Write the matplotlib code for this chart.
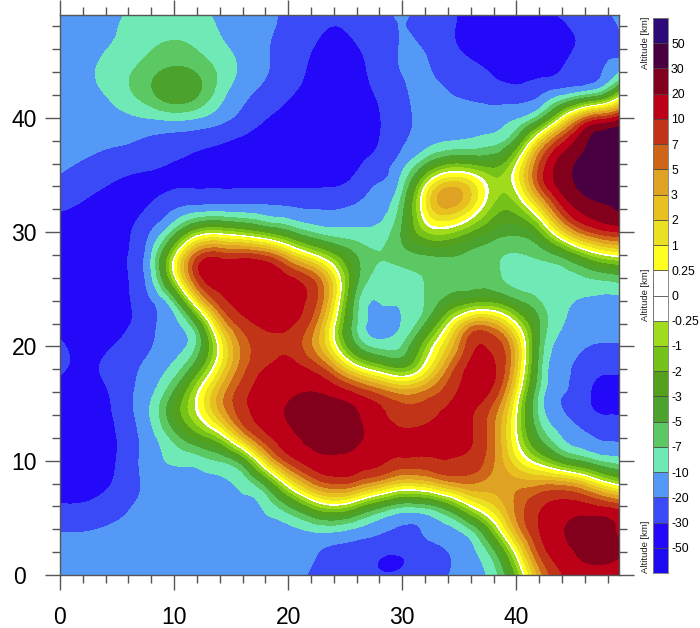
import numpy as np
import matplotlib
matplotlib.use("Agg")
import matplotlib.pyplot as plt
import matplotlib.tri as mtri
from matplotlib.ticker import MultipleLocator
from matplotlib.transforms import ScaledTranslation

plt.rcParams['font.family'] = ['Liberation Sans', 'DejaVu Sans']

LEVELS = [-50, -30, -20, -10, -7, -5, -3, -2, -1, -0.25, 0, 0.25, 1, 2, 3, 5, 7, 10, 20, 30, 50]
LEVEL_LABELS = ['-50', '-30', '-20', '-10', '-7', '-5', '-3', '-2', '-1', '-0.25', '0', '0.25',
                '1', '2', '3', '5', '7', '10', '20', '30', '50']
COLORS = ['#1c0af0', '#2408f8', '#3b4af7', '#5599f6', '#6fe9b5', '#5cc864', '#4ba32e', '#52a01c',
          '#75c218', '#a0dc1c', '#ffffff', '#ffffff', '#ffff22', '#ece022', '#e8c020', '#e0a222',
          '#cf6518', '#c13418', '#bc0018', '#82001c', '#480040', '#2c0a78']

x_km = list(range(0, 52, 2))
y_km = list(range(50, -2, -2))

y50 = [-16,-16,-15,-12,-9.4,-8.5,-9.7,-13,-16,-18,-22,-25,-27,-25,-23,-16,-23,-28,-34,-36,-36,-30,-27,-24,-19,-15]
y48 = [-15,-14,-13,-9.1,-8.2,-7.9,-8.8,-11,-15,-18,-22,-27,-32,-28,-24,-19,-25,-29,-36,-40,-42,-38,-34,-27,-22,-18]
y46 = [-15,-14,-10.5,-9.1,-7.3,-6.4,-7.2,-9.4,-13,-19,-25,-30,-38,-32,-26,-18,-19.5,-28,-36,-42,-44,-44,-37,-27,-23,-18]
y44 = [-15,-12.5,-9,-7.2,-5.4,-4,-4.8,-7.2,-12,-19,-24,-34,-40,-38,-25,-19,-18,-24,-27,-32,-39,-38,-32,-26,-21,-14]
y42 = [-15,-14,-10.5,-7.5,-5,-2.5,-3.8,-8.8,-19,-23,-29,-38,-42,-40,-29,-22,-16,-19,-23,-26,-27,-22,-18,-14,-7.6,3]
y40 = [-15,-15,-14,-12.5,-10.5,-9.4,-10,-16,-22,-30,-38,-42,-44,-42,-32,-23,-17,-15,-14.5,-14,-13,-9.4,0.12,9.7,19,28]
y38 = [-16,-17,-18.5,-19,-23,-26,-28,-29.5,-36,-42,-44,-44,-44,-42,-32,-22,-17,-15,-13,-10,-6,2.5,15,35,42,44]
y36 = [-18,-20.5,-23,-26,-28.5,-32,-36,-40,-43,-45,-45,-45,-44,-34,-26,-16,-6.2,-2.4,-2.5,-3,-0.12,9.4,27,38,44,45]
y34 = [-22,-26,-31,-39,-37,-34,-34,-33,-33,-33,-33,-33,-33,-27,-19,-10.5,0.62,5.6,2.8,-0.78,-0.12,9.4,26,42,46,46]
y32 = [-29,-35,-41,-39,-29,-21,-20.5,-20,-20,-20,-20.5,-20.5,-21,-18,-16,-6.8,1.5,5,1.4,-1.7,-2.1,1,15,25,30,30]
y30 = [-40,-40,-42,-33,-21,-7.6,-1,-0.62,-1.5,-3,-5.4,-9.1,-10,-9.4,-9.7,-4.6,-0.8,-0.8,-2.4,-4,-5,-3,2,8.5,15,18]
y28 = [-36,-38,-38,-33,-15,0,11,14,13,11,3,0.25,-2,-5,-7,-5.8,-5.6,-5.4,-6,-6.9,-7.9,-7.2,-6,-2,-0.12,0.25]
y26 = [-36,-38,-38,-33,-17,0,17,17,18,18,16,10.5,2,-5,-8.5,-8.5,-7.2,-6,-5.6,-6.6,-9.1,-8.5,-8.8,-8.2,-7.6,-6]
y24 = [-36,-37,-38,-34,-22,-10,2,13,15,17,17,12,2,-9.1,-10.2,-10.2,-7.3,-4.8,-4,-3,-5.6,-7.3,-9.4,-12,-14,-14]
y22 = [-36,-36,-37,-34,-23,-15,-7,3,9.5,14,13,8,0,-8.8,-17,-12,-6.4,-0.25,6,5,0,-5,-11,-15,-17,-18]
y20 = [-27.5,-36,-34,-27,-20.5,-15,-9.7,0,6,8.5,9.5,5,0.12,-7,-10,-9.1,-1,2,13,13,4,-6.8,-15,-19.5,-20.5,-21]
y18 = [-28,-34,-28,-22.5,-17,-10,-3.4,1,6.6,12,16,12,5.6,0.62,-1,-3,0,6,16,17,3,-7.9,-19,-27,-29,-30]
y16 = [-36,-36,-35,-21.5,-14,-5,0,4.4,9.7,15,18,21,19,14,7.9,5,6,8.8,16,14,1,-9.7,-20,-28,-40,-40]
y14 = [-37,-37,-37,-23,-10,-2.5,-0.12,3.6,11,15,22,29,29,22,14,8.5,8.8,14,12,6,-0.12,-10,-20,-28,-32,-33]
y12 = [-38,-39,-39,-26,-15,-6.6,-2.8,-1.5,4,13,17,23,28,23,16,14,16,15,13,6.2,-0.25,-6,-14,-19,-22,-23]
y10 = [-38,-39,-39,-24.5,-14,-9.4,-9.85,-8.2,-6,2.3,13,18,19,17,15,12,11,12,10,5.6,1,-1,-4.6,-7.3,-10.5,-13]
y8 = [-37,-38,-36,-24,-18,-16,-14,-13.5,-10.5,-6.4,0.62,6,9.7,7.9,5,2,2.5,5.6,6.2,4,4.4,5,6,3,0,-2]
y6 = [-30,-30,-26,-21,-16,-16,-16,-15,-14,-11,-6.4,-2,-0.25,-2,-6,-9.7,-9.1,-5,0.12,2,6,12,16,17,16,10]
y4 = [-20.5,-20.5,-19,-17,-15,-15,-15,-15,-15,-15,-15,-12,-11.5,-16,-20,-22,-20,-16,-10.5,-1.5,5,13,20,28,23,18]
y2 = [-16,-16,-15,-15,-15,-15,-15,-15,-15,-15,-15,-19.5,-24,-26,-30,-31,-26,-21,-15,-7.3,0.12,10,16,25,24,20]
y0 = [-15,-15,-15,-15,-15,-15,-15,-15,-15,-15,-17,-21,-24,-25,-30,-28.5,-23,-20.5,-15,-9.7,-2.5,4,12,14,14,14]

altitude = np.array([y50, y48, y46, y44, y42, y40, y38, y36, y34, y32, y30, y28, y26,
                     y24, y22, y20, y18, y16, y14, y12, y10, y8, y6, y4, y2, y0], dtype=float)

W, H = 700, 628
fig = plt.figure(figsize=(7.0, 6.28), dpi=100)


def px_axes(left, top, right, bottom):
    return fig.add_axes([left / W, 1 - bottom / H, (right - left) / W, (bottom - top) / H])


ax = px_axes(60, 15, 619, 575)

# The scale is non-linear: contour in level-position space, where every band has
# unit width except the thin white band around zero.
band_width = np.ones(len(LEVELS) - 1)
band_width[9:11] = 0.25
level_pos = np.concatenate([[0], np.cumsum(band_width)])
edges = [-1000] + LEVELS + [1000]
edge_pos = np.concatenate([[-1], level_pos, [level_pos[-1] + 1]])
position = np.interp(altitude, edges, edge_pos)

# Light rendering filter so hand-read grid noise does not wiggle the contours.
pad = np.pad(position, 1, mode='edge')
weights = np.array([0.12, 0.76, 0.12])
pad = np.apply_along_axis(lambda v: np.convolve(v, weights, mode='same'), 0, pad)
pad = np.apply_along_axis(lambda v: np.convolve(v, weights, mode='same'), 1, pad)
position = pad[1:-1, 1:-1]

X, Y = np.meshgrid(x_km, y_km)
tri = mtri.Triangulation(X.ravel(), Y.ravel())
refiner = mtri.UniformTriRefiner(tri)
tri_fine, pos_fine = refiner.refine_field(position.ravel(),
                                          mtri.CubicTriInterpolator(tri, position.ravel(), kind='min_E'),
                                          subdiv=3)
pos_fine = np.clip(pos_fine, edge_pos[0], edge_pos[-1])
ax.tricontourf(tri_fine, pos_fine, levels=edge_pos, colors=COLORS, antialiased=False)
ax.set_xlim(0, 49)
ax.set_ylim(0, 49)

GREY = '#555555'
ax.xaxis.set_major_locator(MultipleLocator(10))
ax.xaxis.set_minor_locator(MultipleLocator(2))
ax.yaxis.set_major_locator(MultipleLocator(10))
ax.yaxis.set_minor_locator(MultipleLocator(2))
ax.tick_params(which='both', direction='out', top=True, right=True, color=GREY, width=1.0)
ax.tick_params(which='major', length=10.8)
ax.tick_params(which='minor', length=5.6)
ax.tick_params(axis='x', which='major', labelsize=16.5, pad=11.5)
ax.tick_params(axis='y', which='major', labelsize=16.5, pad=5.8)
for s in ax.spines.values():
    s.set_color(GREY)
    s.set_linewidth(1.0)
fig.canvas.draw()
for lab, val in zip(ax.get_yticklabels(), ax.get_yticks()):
    if val == 0:
        lab.set_transform(lab.get_transform() + ScaledTranslation(-11 / 100, 0, fig.dpi_scale_trans))

# Colour bar: one box per band, labels at the edges between boxes.
cax = px_axes(653, 18, 668, 573)
for i, c in enumerate(COLORS):
    cax.barh(i, 1, height=1, left=0, color=c, edgecolor='#444444', linewidth=0.5, align='edge')
cax.set_xlim(0, 1)
cax.set_ylim(0, len(COLORS))
cax.set_xticks([])
cax.set_yticks(np.arange(1, len(COLORS)))
cax.set_yticklabels(LEVEL_LABELS, fontsize=8.8)
cax.yaxis.tick_right()
cax.tick_params(axis='y', length=0, pad=2.2)
for s in cax.spines.values():
    s.set_color('#777777')
    s.set_linewidth(0.6)

for center in (43, 295, 547):
    fig.text(646 / W, 1 - center / H, 'Altitude [km]', rotation=90, ha='center', va='center',
             fontsize=6.8, color='#222222')

fig.savefig('out.png', dpi=100)
